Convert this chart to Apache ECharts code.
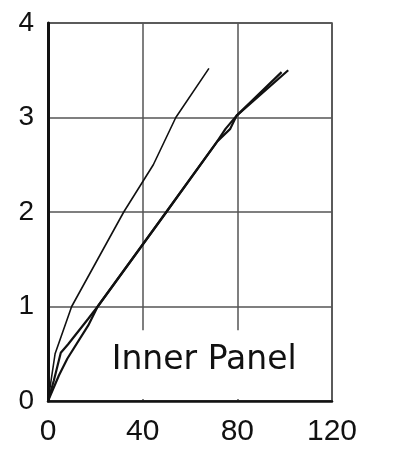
<!DOCTYPE html>
<html>
<head>
<meta charset="utf-8">
<script src="https://cdn.jsdelivr.net/npm/echarts@6/dist/echarts.min.js"></script>
<style>
  html, body { margin: 0; padding: 0; background: #fff; }
  #chart { width: 414px; height: 449px; }
</style>
</head>
<body>
<div id="chart"></div>
<script>
// Axis ticks
const xTicks = [0, 40, 80, 120];
const yTicks = [0, 1, 2, 3, 4];

// Curves as [x, y] pairs
const curveSteep = [[0, 0], [3, 0.5], [10, 1.0], [21, 1.5], [32, 2.0], [44.5, 2.5], [54, 3.0], [68, 3.52]];
const curveOuter = [[0, 0], [2.5, 0.22], [5.4, 0.51], [8.5, 0.6], [17, 0.87], [21, 1.0], [50, 2.0], [71.3, 2.74], [75, 2.88], [79.7, 3.02], [101.5, 3.5]];
const curveInner = [[0, 0], [4.6, 0.27], [8.2, 0.45], [17, 0.8], [21, 1.0], [50, 2.0], [71.3, 2.74], [77, 2.88], [79.7, 3.02], [98.7, 3.48]];

const panelLabel = 'Inner Panel';

const chart = echarts.init(document.getElementById('chart'), null, { renderer: 'canvas' });

const lineSeries = (data, width) => ({
  type: 'line',
  data: data,
  showSymbol: false,
  smooth: false,
  z: 3,
  lineStyle: { color: '#111', width: width },
  silent: true
});

chart.setOption({
  animation: false,
  backgroundColor: '#fff',
  grid: {
    left: 48, right: 82, top: 23, bottom: 48,
    show: true, borderColor: '#444', borderWidth: 1.5
  },
  xAxis: {
    type: 'value',
    min: xTicks[0], max: xTicks[xTicks.length - 1], interval: 40,
    axisLine: { show: true, lineStyle: { color: '#111', width: 2.5 } },
    axisTick: { show: false },
    splitLine: { show: true, lineStyle: { color: '#555', width: 1.5 } },
    axisLabel: {
      color: '#111', fontFamily: 'Liberation Sans', fontSize: 30, margin: 16,
      formatter: v => xTicks.includes(v) ? String(v) : ''
    }
  },
  yAxis: {
    type: 'value',
    min: yTicks[0], max: yTicks[yTicks.length - 1], interval: 1,
    axisLine: { show: true, lineStyle: { color: '#111', width: 3 } },
    axisTick: { show: false },
    splitLine: { show: true, lineStyle: { color: '#555', width: 1.5 } },
    axisLabel: {
      color: '#111', fontFamily: 'Liberation Sans', fontSize: 28, margin: 14,
      formatter: v => yTicks.includes(v) ? String(v) : ''
    }
  },
  series: [
    lineSeries(curveSteep, 1.6),
    lineSeries(curveOuter, 2.2),
    lineSeries(curveInner, 2.2)
  ]
});

// White panel behind the label, masking the vertical grid lines below it
const topLeft = chart.convertToPixel({ gridIndex: 0 }, [20, 0.75]);
const botRight = chart.convertToPixel({ gridIndex: 0 }, [118, 0.02]);
const labelPos = chart.convertToPixel({ gridIndex: 0 }, [66, 0.43]);
chart.setOption({
  graphic: [
    {
      type: 'rect', z: 1,
      shape: { x: topLeft[0], y: topLeft[1], width: botRight[0] - topLeft[0], height: botRight[1] - topLeft[1] },
      style: { fill: '#fff' }
    },
    {
      type: 'text', z: 4,
      x: labelPos[0], y: labelPos[1],
      style: {
        text: panelLabel, fill: '#111', font: '33px "DejaVu Sans"',
        textAlign: 'center', textVerticalAlign: 'middle'
      }
    }
  ]
});
</script>
</body>
</html>
